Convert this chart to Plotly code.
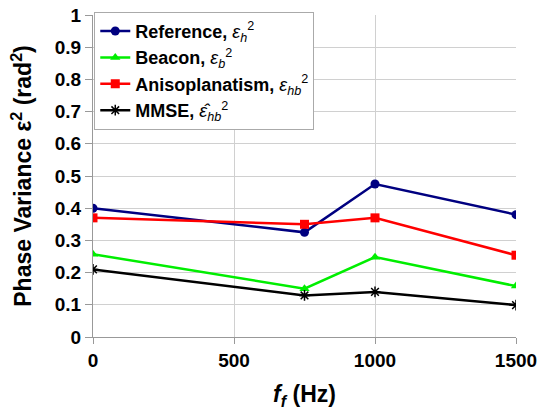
import plotly.graph_objects as go

freq = [0, 750, 1000, 1500]
reference = [0.40, 0.325, 0.475, 0.38]
beacon = [0.257, 0.15, 0.248, 0.158]
aniso = [0.37, 0.35, 0.37, 0.254]
mmse = [0.21, 0.129, 0.14, 0.099]

names = [
    "<b>Reference, </b><i>ε<sub>h</sub></i><sup>2</sup>",
    "<b>Beacon, </b><i>ε<sub>b</sub></i><sup>2</sup>",
    "<b>Anisoplanatism, </b><i>ε<sub>hb</sub></i><sup>2</sup>",
    "<b>MMSE, </b><i>ε̂<sub>hb</sub></i><sup>2</sup>",
]

FONT = "Arial, Liberation Sans, sans-serif"
fig = go.Figure()
fig.add_trace(go.Scatter(x=freq, y=reference, name=names[0], mode="lines+markers",
                         line=dict(color="#000080", width=2.5),
                         marker=dict(symbol="circle", size=9, color="#000080")))
fig.add_trace(go.Scatter(x=freq, y=beacon, name=names[1], mode="lines+markers",
                         line=dict(color="#00ee00", width=2.5),
                         marker=dict(symbol="triangle-up", size=9, color="#00ee00")))
fig.add_trace(go.Scatter(x=freq, y=aniso, name=names[2], mode="lines+markers",
                         line=dict(color="#ff0000", width=2.5),
                         marker=dict(symbol="square", size=9, color="#ff0000")))
fig.add_trace(go.Scatter(x=freq, y=mmse, name=names[3], mode="lines+markers",
                         line=dict(color="#000000", width=2.5),
                         marker=dict(symbol="asterisk-open", size=9,
                                     line=dict(color="#333333", width=1.5))))

fig.update_layout(
    width=540, height=410,
    margin=dict(l=93, r=24, t=15, b=73),
    paper_bgcolor="white", plot_bgcolor="white",
    font=dict(family=FONT, color="black"),
    showlegend=True,
    legend=dict(x=0.003, y=1.01, xanchor="left", yanchor="top",
                bgcolor="white", bordercolor="#aaaaaa", borderwidth=1,
                font=dict(size=18, family=FONT),
                itemwidth=30),
    xaxis=dict(range=[0, 1500], tickvals=[0, 500, 1000, 1500],
               tickfont=dict(size=19, family=FONT, weight="bold"),
               showgrid=True, gridcolor="#d0d0d0", gridwidth=1,
               showline=True, linecolor="#999999", linewidth=1,
               ticks="outside", ticklen=6, tickcolor="#999999",
               zeroline=False, automargin=False,
               title=dict(text="<b><i>f<sub>f</sub></i> (Hz)</b>", font=dict(size=23, family=FONT),
                          standoff=16)),
    yaxis=dict(range=[0, 1],
               tickvals=[0, 0.1, 0.2, 0.3, 0.4, 0.5, 0.6, 0.7, 0.8, 0.9, 1],
               ticktext=["0", "0.1", "0.2", "0.3", "0.4", "0.5", "0.6", "0.7", "0.8", "0.9", "1"],
               tickfont=dict(size=19, family=FONT, weight="bold"),
               showgrid=True, gridcolor="#d0d0d0", gridwidth=1,
               showline=True, linecolor="#999999", linewidth=1,
               ticks="outside", ticklen=7, tickcolor="#999999",
               zeroline=False, automargin=False,
               title=dict(text="<b>Phase Variance ε<sup>2</sup> (rad<sup>2</sup>)</b>",
                          font=dict(size=23, family=FONT), standoff=16)),
)

fig.write_html("out.html")
